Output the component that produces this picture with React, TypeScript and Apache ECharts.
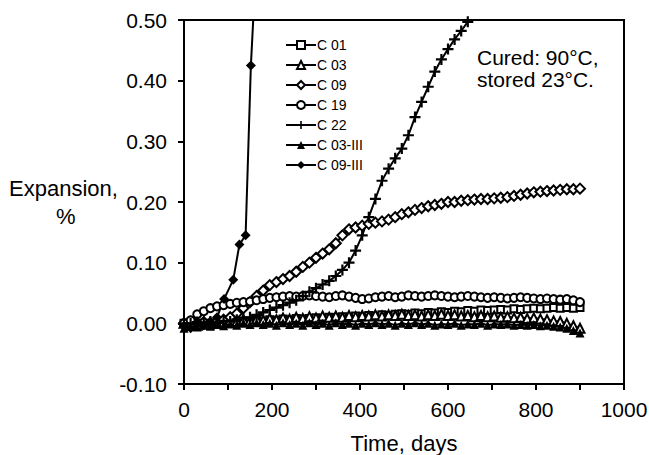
import React, { useEffect, useRef } from "react";
import * as echarts from "echarts";

const days = [0,15,30,45,60,75,90,105,120,135,150,165,180,195,210,225,240,255,270,285,300,315,330,345,360,375,390,405,420,435,450,465,480,495,510,525,540,555,570,585,600,615,630,645,660,675,690,705,720,735,750,765,780,795,810,825,840,855,870,885,900];

const c01 = [0,-0.005,0,0,-0.003,0.002,0,0.003,0.002,0.004,0.003,0.005,0.004,0.006,0.005,0.007,0.006,0.008,0.007,0.008,0.009,0.008,0.01,0.009,0.011,0.01,0.012,0.011,0.013,0.012,0.014,0.013,0.015,0.016,0.015,0.017,0.016,0.018,0.017,0.019,0.018,0.02,0.019,0.021,0.02,0.022,0.021,0.022,0.023,0.022,0.024,0.023,0.024,0.025,0.024,0.025,0.026,0.025,0.026,0.025,0.026];

const c03 = [0,0.002,-0.003,0.003,0,0.004,0.002,0.005,0.003,0.006,0.004,0.007,0.005,0.008,0.006,0.009,0.007,0.01,0.008,0.011,0.009,0.012,0.01,0.012,0.01,0.013,0.011,0.013,0.012,0.014,0.012,0.014,0.013,0.015,0.013,0.014,0.012,0.014,0.013,0.015,0.013,0.014,0.012,0.013,0.011,0.013,0.011,0.012,0.01,0.011,0.009,0.01,0.008,0.009,0.007,0.006,0.004,0.003,0,-0.004,-0.008];

const c09 = [0,-0.003,0,0.002,0.001,0.004,0.006,0.01,0.016,0.025,0.035,0.045,0.054,0.063,0.068,0.073,0.078,0.085,0.093,0.1,0.108,0.115,0.122,0.132,0.145,0.155,0.158,0.161,0.164,0.166,0.168,0.171,0.175,0.18,0.183,0.187,0.19,0.193,0.195,0.197,0.2,0.2,0.202,0.203,0.204,0.205,0.205,0.206,0.207,0.208,0.21,0.212,0.214,0.216,0.217,0.218,0.219,0.22,0.221,0.221,0.222];

const c19 = [0,0.005,0.015,0.02,0.025,0.028,0.03,0.032,0.034,0.035,0.036,0.038,0.04,0.042,0.043,0.044,0.045,0.044,0.045,0.046,0.045,0.044,0.043,0.045,0.046,0.044,0.042,0.04,0.041,0.043,0.044,0.045,0.043,0.044,0.046,0.045,0.044,0.045,0.046,0.045,0.044,0.043,0.044,0.045,0.044,0.043,0.042,0.043,0.042,0.041,0.042,0.043,0.042,0.041,0.04,0.041,0.04,0.039,0.04,0.038,0.035];

const c22 = [0,0,0.002,0,0.003,0.001,0.004,0.003,0.006,0.008,0.01,0.014,0.018,0.022,0.026,0.03,0.034,0.038,0.045,0.052,0.058,0.064,0.07,0.078,0.088,0.1,0.12,0.145,0.175,0.205,0.235,0.255,0.272,0.288,0.31,0.34,0.365,0.39,0.415,0.435,0.452,0.468,0.482,0.497,0.515,0.535];

const c03iii = [-0.008,-0.005,-0.006,-0.003,-0.005,-0.002,-0.004,-0.001,-0.003,0,-0.002,0.001,-0.002,0,-0.003,0.001,-0.002,0,-0.003,0.001,-0.002,0,-0.003,0.001,-0.002,0,-0.003,0,-0.002,0.001,-0.002,0,-0.003,0,-0.002,0.001,-0.002,0,-0.003,-0.001,-0.002,0,-0.003,-0.001,-0.002,0,-0.003,-0.001,-0.002,-0.001,-0.003,-0.002,-0.003,-0.002,-0.004,-0.003,-0.005,-0.006,-0.008,-0.012,-0.016];

const c09iiiDays = [0,15,30,45,60,75,91,112,126,140,152,175];
const c09iii = [-0.005,-0.008,0,-0.003,0.002,0.01,0.04,0.072,0.13,0.145,0.425,0.75];

const FONT = "'Liberation Sans', Arial, sans-serif";
const PLUS = "path://M4,0 H6 V4 H10 V6 H6 V10 H4 V6 H0 V4 H4 Z";

function pairs(xs: number[], ys: number[]) {
  return ys.map((v, i) => [xs[i], v]);
}

export default function App() {
  const ref = useRef<HTMLDivElement>(null);
  useEffect(() => {
    if (!ref.current) return;
    const chart = echarts.init(ref.current, undefined, { renderer: "svg" });
    const mk = (name: string, data: number[][], symbol: string, filled: boolean, size = 8) => ({
      name,
      type: "line",
      data,
      symbol,
      symbolSize: size,
      showSymbol: true,
      clip: true,
      silent: true,
      lineStyle: { color: "#000", width: 2 },
      itemStyle: { color: filled ? "#000" : "#fff", borderColor: "#000", borderWidth: filled ? 0 : 2 },
      emphasis: { disabled: true },
    });
    chart.setOption({
      animation: false,
      backgroundColor: "#fff",
      textStyle: { fontFamily: FONT },
      grid: { left: 184, top: 20, width: 440, height: 364, show: true, borderColor: "#000", borderWidth: 2, containLabel: false, outerBoundsMode: "none" },
      legend: {
        orient: "vertical",
        left: 280,
        top: 33,
        itemWidth: 30,
        itemHeight: 10,
        itemGap: 6,
        textStyle: { fontFamily: FONT, fontSize: 14, color: "#000", padding: [0, 0, 0, -4] },
        data: ["C 01", "C 03", "C 09", "C 19", "C 22", "C 03-III", "C 09-III"],
        selectedMode: false,
      },
      xAxis: {
        type: "value",
        min: 0,
        max: 1000,
        interval: 200,
        name: "Time, days",
        nameLocation: "middle",
        nameGap: 48,
        nameTextStyle: { fontFamily: FONT, fontSize: 22, color: "#000" },
        axisLine: { onZero: false, lineStyle: { color: "#000", width: 2 } },
        axisTick: { show: true, inside: false, length: 6, lineStyle: { color: "#000", width: 2 } },
        minorTick: { show: true, splitNumber: 2, length: 6, lineStyle: { color: "#000", width: 2 } },
        axisLabel: { fontFamily: FONT, fontSize: 21, color: "#000", margin: 15, formatter: (v: number) => String(v) },
        splitLine: { show: false },
      },
      yAxis: {
        type: "value",
        min: -0.1,
        max: 0.5,
        interval: 0.1,
        axisLine: { onZero: false, lineStyle: { color: "#000", width: 2 } },
        axisTick: { show: true, inside: false, length: 6, lineStyle: { color: "#000", width: 2 } },
        axisLabel: {
          fontFamily: FONT,
          fontSize: 21,
          color: "#000",
          margin: 17,
          formatter: (v: number) => v.toFixed(2),
        },
        splitLine: { show: false },
      },
      graphic: [
        { type: "text", left: 9, top: 177, style: { text: "Expansion,", font: `22px ${FONT}`, fill: "#000" } },
        { type: "text", left: 56, top: 205, style: { text: "%", font: `22px ${FONT}`, fill: "#000" } },
        { type: "text", left: 477, top: 46, style: { text: "Cured: 90°C,\nstored 23°C.", font: `21px ${FONT}`, fill: "#000", lineHeight: 22 } },
      ],
      series: [
        mk("C 01", pairs(days, c01), "rect", false, 7),
        mk("C 03", pairs(days, c03), "triangle", false, 9),
        mk("C 09", pairs(days, c09), "diamond", false, 10),
        mk("C 19", pairs(days, c19), "circle", false, 8),
        mk("C 22", pairs(days, c22), PLUS, true, 11),
        mk("C 03-III", pairs(days, c03iii), "triangle", true, 9),
        mk("C 09-III", pairs(c09iiiDays, c09iii), "diamond", true, 10),
      ],
    });
    return () => chart.dispose();
  }, []);
  return <div ref={ref} style={{ width: 649, height: 455, position: "absolute", left: 0, top: 0 }} />;
}
